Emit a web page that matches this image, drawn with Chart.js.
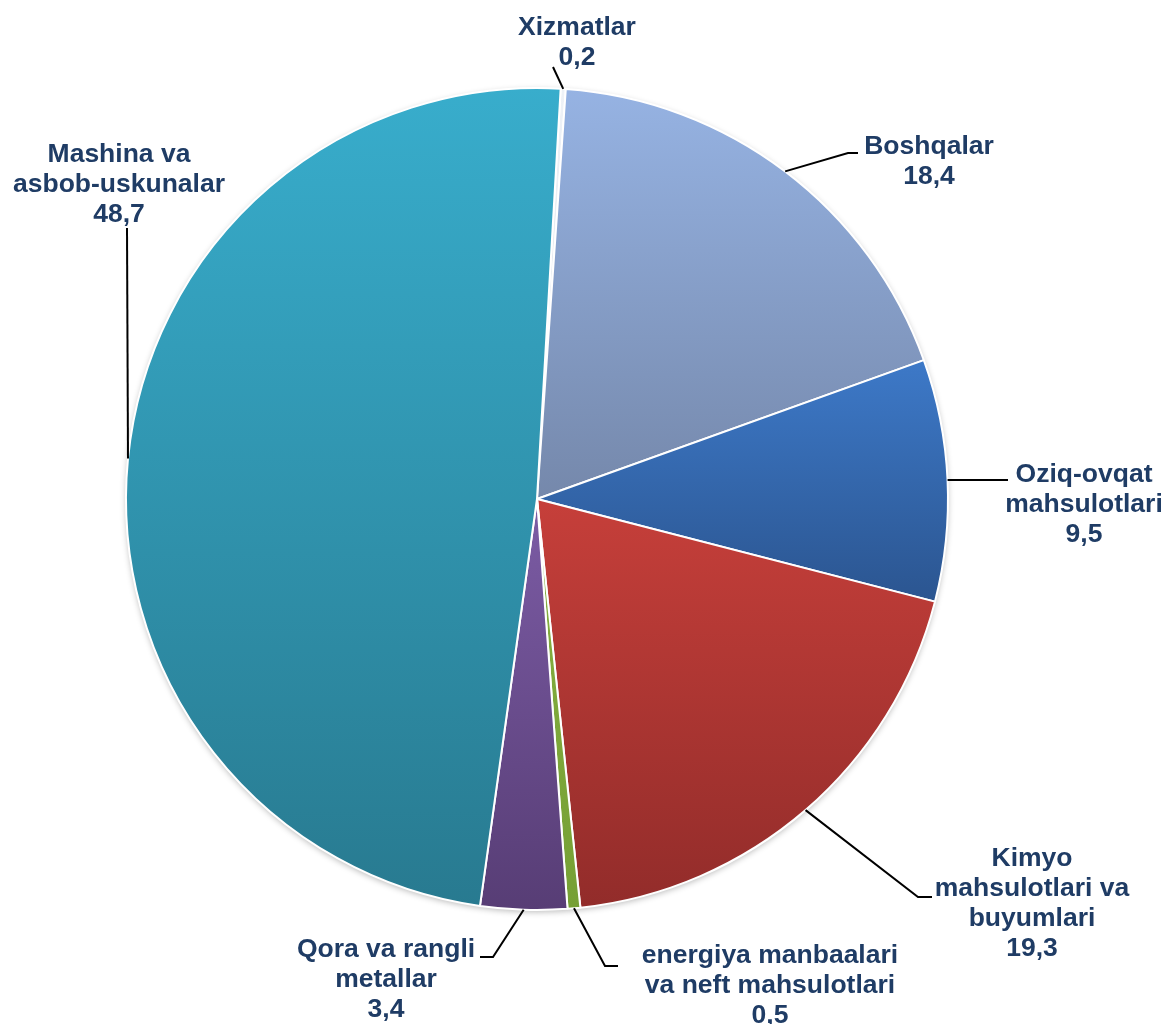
<!DOCTYPE html>
<html><head><meta charset="utf-8">
<script src="https://cdn.jsdelivr.net/npm/chart.js@4/dist/chart.umd.min.js"></script>
<style>html,body{margin:0;padding:0;background:#fff;overflow:hidden}</style>
</head><body>
<canvas id="c" width="1168" height="1024" style="width:1168px;height:1024px;display:block"></canvas>
<script>
// ---- data ----
const categories = [
  ["Xizmatlar"],
  ["Boshqalar"],
  ["Oziq-ovqat", "mahsulotlari"],
  ["Kimyo", "mahsulotlari va", "buyumlari"],
  ["energiya manbaalari", "va neft mahsulotlari"],
  ["Qora va rangli", "metallar"],
  ["Mashina va", "asbob-uskunalar"]
];
const values = [0.2, 18.4, 9.5, 19.3, 0.5, 3.4, 48.7];
const valueLabels = ["0,2", "18,4", "9,5", "19,3", "0,5", "3,4", "48,7"];

// ---- styles ----
const colorsTop    = ["#eef2f7", "#96b3e3", "#3d79c8", "#c63f3a", "#86b040", "#7c5ca5", "#38adcc"];
const colorsBottom = ["#dde3ea", "#7588ab", "#2b5590", "#922c2a", "#76a035", "#573d75", "#287a90"];
const ROTATION = 3.3;
const TEXT_COLOR = "#1f3c65";
const FONT = "bold 26.5px 'Liberation Sans', Arial, sans-serif";
const LINE_H = 30;
// label layout: text centre x, first baseline y, leader line points after the arc midpoint
const labelLayout = [
  { x: 577, y: 35,  path: [[553, 67]] },
  { x: 929, y: 154, path: [[848, 153], [858, 153]] },
  { x: 1084, y: 482, path: [[1008, 480]] },
  { x: 1032, y: 866, path: [[918, 897], [932, 897]] },
  { x: 770, y: 963, path: [[605, 966], [618, 966]] },
  { x: 386, y: 957, path: [[493, 957], [480, 957]] },
  { x: 119, y: 162, path: [[127, 228]] }
];

function sliceGradient(context) {
  const chart = context.chart;
  const a = chart.chartArea;
  const i = context.dataIndex;
  if (!a) return colorsTop[i];
  const data = context.dataset.data;
  const total = data.reduce((s, v) => s + v, 0);
  let cum = 0;
  for (let j = 0; j < i; j++) cum += data[j];
  const cx = (a.left + a.right) / 2, cy = (a.top + a.bottom) / 2;
  const r = Math.min(a.width, a.height) / 2;
  const rot = ROTATION * Math.PI / 180 - Math.PI / 2;
  const s = rot + cum / total * 2 * Math.PI;
  const e = s + data[i] / total * 2 * Math.PI;
  const ys = [cy, cy + r * Math.sin(s), cy + r * Math.sin(e)];
  for (let k = -2; k <= 4; k++) {
    const ang = -Math.PI / 2 + k * Math.PI;
    if (ang > s && ang < e) ys.push(cy + r * Math.sin(ang));
  }
  const minY = Math.min(...ys), maxY = Math.max(...ys);
  const g = chart.ctx.createLinearGradient(0, minY, 0, Math.max(maxY, minY + 1));
  g.addColorStop(0, colorsTop[i]);
  g.addColorStop(1, colorsBottom[i]);
  return g;
}

const shadowPlugin = {
  id: 'pieShadow',
  beforeDatasetsDraw(chart) {
    const arc = chart.getDatasetMeta(0).data[0];
    if (!arc) return;
    const ctx = chart.ctx;
    ctx.save();
    ctx.shadowColor = 'rgba(0,0,0,0.28)';
    ctx.shadowBlur = 6;
    ctx.shadowOffsetY = 2;
    ctx.fillStyle = '#ffffff';
    ctx.beginPath();
    ctx.arc(arc.x, arc.y, arc.outerRadius, 0, Math.PI * 2);
    ctx.fill();
    ctx.restore();
  }
};

const labelPlugin = {
  id: 'outLabels',
  afterDatasetsDraw(chart) {
    const ctx = chart.ctx;
    const meta = chart.getDatasetMeta(0);
    ctx.save();
    meta.data.forEach((arc, i) => {
      const p = arc.getProps(['x', 'y', 'startAngle', 'endAngle', 'outerRadius'], true);
      const mid = (p.startAngle + p.endAngle) / 2;
      const sx = p.x + Math.cos(mid) * p.outerRadius;
      const sy = p.y + Math.sin(mid) * p.outerRadius;
      const L = labelLayout[i];
      ctx.strokeStyle = '#000000';
      ctx.lineWidth = 2;
      ctx.beginPath();
      ctx.moveTo(sx, sy);
      L.path.forEach(pt => ctx.lineTo(pt[0], pt[1]));
      ctx.stroke();
      ctx.fillStyle = TEXT_COLOR;
      ctx.font = FONT;
      ctx.textAlign = 'center';
      ctx.textBaseline = 'alphabetic';
      const lines = categories[i].concat([valueLabels[i]]);
      lines.forEach((t, k) => ctx.fillText(t, L.x, L.y + k * LINE_H));
    });
    ctx.restore();
  }
};

new Chart(document.getElementById('c'), {
  type: 'pie',
  data: {
    labels: categories.map(c => c.join(' ')),
    datasets: [{
      data: values,
      backgroundColor: sliceGradient,
      borderColor: '#ffffff',
      borderWidth: 2
    }]
  },
  options: {
    responsive: false,
    animation: false,
    rotation: ROTATION,
    layout: { padding: { left: 125, right: 219, top: 87, bottom: 113 } },
    plugins: { legend: { display: false }, tooltip: { enabled: false } }
  },
  plugins: [shadowPlugin, labelPlugin]
});
</script>
</body></html>
